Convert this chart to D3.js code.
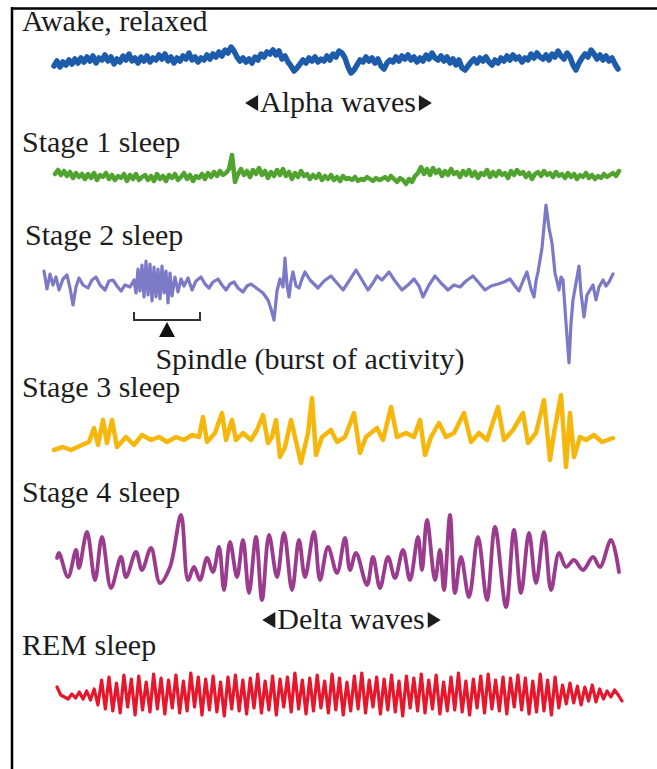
<!DOCTYPE html>
<html><head><meta charset="utf-8">
<script src="https://cdn.jsdelivr.net/npm/d3@7"></script>
<style>body{margin:0;background:#fff}svg{display:block}</style>
</head><body><svg id="c" width="657" height="769"></svg>
<script>
// ---------------- DATA ----------------
const stageLabels = ["Awake, relaxed", "Stage 1 sleep", "Stage 2 sleep", "Stage 3 sleep", "Stage 4 sleep", "REM sleep"];
const waveLabels = ["Alpha waves", "Delta waves"];
const spindleLabel = "Spindle (burst of activity)";

// uniformly sampled traces: [start time, end time] + amplitude samples
const awakeSpan = [14, 578];
const awakeValues = [-3,2,-4,1,-2,3,-1,4,0,5, 1,6,2,7,0,5,3,8,2,6, -1,4,1,7,3,9,2,5,0,6,
  2,7,1,5,3,8,4,9,2,6, 0,5,2,7,4,10,3,6,1,5, 3,8,4,9,6,11,7,13,10,16,
  12,6,2,5,1,4,0,6,3,9, 6,11,9,13,8,12,4,7,1,-3, -8,-5,-1,3,0,5,2,6,1,4,
  2,7,3,9,6,12,10,5,-4,-10, -7,-2,3,1,6,2,5,0,4,-3, -6,0,3,1,6,2,7,4,8,3,
  6,1,5,2,8,4,10,5,3,7, 2,6,0,4,-2,3,-5,-7,-3,1, 4,0,5,2,6,1,-2,3,0,5,
  2,7,3,8,4,6,1,5,3,9, 5,10,6,4,8,3,9,6,12,7, 4,10,6,-2,-7,0,5,9,6,13,
  9,4,8,3,7,2,5,-1,-6];

const stage1Span = [15, 579];
const stage1Values = [3,7,2,6,1,5,-1,4,0,3, -2,3,-1,4,-3,2,0,4,-2,2, -3,1,-1,3,-4,2,-2,3,-3,0,
  2,-3,1,-4,3,-2,1,-4,2,-1, 3,-3,0,4,-2,2,-4,1,-1,3, -2,4,0,5,1,6,2,4,8,22,
  -5,3,8,2,6,0,7,3,9,2, 6,-1,5,1,7,2,8,1,5,-2, 4,0,6,1,3,-2,2,-1,3,-3,
  1,-2,2,-3,0,-4,1,-2,-1,-3, 0,-4,-2,-3,0,-2,-4,-1,-3,-2, 0,-3,1,-2,-5,-1,-3,-7,-2,-5,
  1,4,10,3,8,2,9,4,7,1, 6,2,8,3,5,0,6,2,7,1, 5,-1,4,2,7,0,5,1,6,2,
  4,-1,6,2,7,3,5,0,4,-2, 3,5,1,6,2,4,0,5,1,3, -1,4,0,3,-2,2,0,4,-1,2,
  -2,1,-1,3,0,2,4,1,6];

const remSpan = [17, 582];
const remValues = [8,0,-2,-4,1,-3,3,-4,4,-5,6,
  -10,15,-14,18,-16,12,-18,20,-12,16, -20,19,-15,13,-17,21,-14,17,-19,15,
  -13,20,-18,14,-16,22,-12,18,-20,16, -15,19,-17,13,-21,18,-14,20,-16,15,
  -19,17,-13,21,-18,14,-15,19,-20,16, -12,18,-17,22,-14,15,-19,17,-16,20,
  -13,14,-18,21,-15,17,-20,13,-16,19, -14,22,-18,15,-12,18,-19,16,-15,20,
  -17,14,-21,19,-13,17,-16,21,-18,15, -14,20,-19,13,-16,18,-15,22,-17,14,
  -20,16,-13,19,-18,21,-14,15,-16,18, -19,17,-12,20,-15, 17,-19,14,-17,21,-16,15,-20,18,-13,
  10,-9,12,-8,9,-10,8,-6,10,-7,6,-4,4,-2,5,0,-6];

// irregular traces: [time, amplitude]
const stage2Points = [[4,12],[7,-6],[10,9],[13,-2],[16,6],[19,-7],[23,4],[27,8],[30,-5],[33,-22],[36,-4],[39,5],[43,-2],[48,-5],[52,3],[56,6],[60,-2],[65,-7],[69,2],[73,3],[77,-3],[81,-8],[85,-2],[90,-4],
  [94,3],[96,-10],[98,14],[100,-8],[102,18],[104,-14],[106,22],[108,-12],[110,19],[112,-18],[114,16],[116,-14],[118,14],[120,-16],[122,17],[124,-10],[126,12],[128,-20],[130,10],[132,-13],[135,6],[138,-9],
  [141,4],[144,-3],[148,5],[152,-7],[156,2],[161,6],[165,-1],[169,-5],[173,1],[178,4],[182,-2],[186,-7],[190,-1],[194,1],[198,-5],[203,-9],[207,-3],[211,-1],[215,-4],[219,-7],[223,-10],[228,-17],[231,-26],[234,-37],[237,-8],[240,4],[243,-4],[245,25],[247,-2],[249,-14],[251,2],[253,11],
  [256,-3],[259,-5],[262,4],[265,11],[270,3],[274,-1],[278,-5],[284,2],[291,7],[297,0],[303,-7],[309,2],[316,13],[322,3],[328,-7],[333,0],[337,7],[342,3],[349,11],[355,2],[362,-7],[368,-2],[374,4],[379,-3],[383,-14],[389,-2],[395,7],[401,0],[408,-7],[414,-2],[420,-4],[426,2],[433,7],
  [439,0],[445,-7],[451,-3],[458,-1],[464,1],[470,4],[475,-3],[479,-8],[483,2],[487,11],[491,-6],[494,-14],[496,2],[498,11],[502,35],[506,78],[509,55],[512,40],[515,10],[519,-7],[521,6],[523,3],[526,-40],[529,-80],[531,-40],[533,-17],[536,0],[539,17],[541,-10],[544,-34],
  [547,-12],[550,-7],[553,-2],[556,-17],[559,-4],[563,3],[566,-3],[569,1],[571,5],[573,9]];
const spindleSpan = [94, 160];

const stage3Points = [[14,-8],[23,-5],[31,-8],[42,-3],[49,0],[54,14],[58,-3],[63,22],[67,-1],[72,22],[77,-5],[86,5],[94,-3],[102,7],[111,2],
  [119,5],[127,0],[136,5],[144,2],[152,7],[159,5],[163,25],[167,0],[175,9],[182,29],[186,2],[192,22],[196,2],[203,9],[211,2],[217,12],[223,27],
  [228,-1],[232,5],[236,22],[240,-15],[245,-5],[251,22],[255,5],[261,-21],[268,9],[272,44],[276,-13],[282,5],[291,12],[297,0],[305,5],[314,29],
  [320,-11],[326,5],[337,14],[343,2],[351,35],[357,5],[366,9],[374,5],[380,22],[385,-13],[391,5],[399,19],[406,5],[414,9],[424,29],[431,0],
  [439,9],[447,2],[458,35],[464,2],[473,12],[483,29],[488,-1],[496,9],[504,42],[510,-18],[514,9],[521,47],[526,-25],[530,29],[534,-15],[540,5],
  [546,2],[554,7],[562,0],[573,4]];

const stage4Points = [[17,2],[19,7],[28,-17],[36,10],[39,-8],[47,28],[55,-20],[62,23],[71,-28],[81,3],[86,-17],[96,8],[102,-10],[111,12],[120,-23],
  [130,-7],[141,45],[148,-20],[154,-7],[160,-20],[167,2],[173,-12],[179,13],[184,-30],[190,18],[197,-17],[203,20],[209,-33],[216,23],[222,-40],
  [229,25],[237,-17],[244,27],[252,-30],[259,20],[265,-17],[274,28],[280,-20],[288,13],[297,-13],[305,22],[310,-10],[316,7],[327,-25],[333,3],
  [340,-28],[348,3],[355,-18],[363,10],[370,-20],[378,23],[382,-10],[387,40],[395,-20],[400,10],[404,-30],[410,45],[415,-33],[421,3],[429,-37],
  [438,23],[447,-40],[455,33],[466,-47],[474,30],[481,-33],[489,27],[496,-23],[504,28],[511,-30],[519,7],[526,-7],[534,0],[543,-10],[553,3],
  [560,-7],[571,20],[579,-12]];

// ---------------- CHART ----------------
const svg = d3.select("#c");
const x = d3.scaleLinear().domain([0, 600]).range([40, 640]);

const defs = svg.append("defs");
defs.append("filter").attr("id", "soft").attr("x", "-5%").attr("y", "-20%").attr("width", "110%").attr("height", "140%")
  .append("feGaussianBlur").attr("stdDeviation", 0.6);

function uniform(span, vals) {
  return vals.map((v, i) => [span[0] + i * (span[1] - span[0]) / (vals.length - 1), v]);
}

const rows = [
  {label: stageLabels[0], labelY: 31, center: 63, data: uniform(awakeSpan, awakeValues), color: "#1f5cab", width: 5.5, curve: d3.curveLinear},
  {label: stageLabels[1], labelY: 152, center: 177, data: uniform(stage1Span, stage1Values), color: "#4fa32f", width: 4.5, curve: d3.curveLinear},
  {label: stageLabels[2], labelY: 245, center: 283, data: stage2Points, color: "#7b79c6", width: 3.2, labelX: 25, curve: d3.curveLinear},
  {label: stageLabels[3], labelY: 397, center: 442, data: stage3Points, color: "#f6b70c", width: 4.5, curve: d3.curveLinear},
  {label: stageLabels[4], labelY: 502, center: 560, data: stage4Points, color: "#9b3b8d", width: 3.8, curve: d3.curveCatmullRom.alpha(0.5)},
  {label: stageLabels[5], labelY: 655, center: 695, data: uniform(remSpan, remValues), color: "#e8132b", width: 3.2, curve: d3.curveLinear}
];

const font = "'Liberation Serif', 'Times New Roman', serif";
const ink = "#1c1c1c";
const fs = 30;

// frame
svg.append("line").attr("x1", 11).attr("x2", 657).attr("y1", 8.5).attr("y2", 8.5).attr("stroke", "#000").attr("stroke-width", 2.5);
svg.append("line").attr("x1", 12).attr("x2", 12).attr("y1", 7).attr("y2", 769).attr("stroke", "#000").attr("stroke-width", 2.5);

rows.forEach(r => {
  const y = d3.scaleLinear().domain([-100, 100]).range([r.center + 100, r.center - 100]);
  const line = d3.line().x(d => x(d[0])).y(d => y(d[1])).curve(r.curve);
  svg.append("path").datum(r.data).attr("d", line)
    .attr("fill", "none").attr("stroke", r.color).attr("stroke-width", r.width)
    .attr("stroke-linejoin", "round").attr("stroke-linecap", "round").attr("filter", "url(#soft)");
  svg.append("text").attr("x", r.labelX || 22).attr("y", r.labelY).text(r.label)
    .attr("font-family", font).attr("font-size", fs).attr("fill", ink);
  r.y = y;
});

// wave name labels with arrowheads
function waveLabel(text, cx, baseY) {
  const t = svg.append("text").attr("x", cx).attr("y", baseY).attr("text-anchor", "middle")
    .attr("font-family", font).attr("font-size", fs).attr("fill", ink).text(text);
  const w = t.node().getComputedTextLength();
  const my = baseY - 9;
  svg.append("path").attr("d", `M${cx - w/2 - 2},${my - 8} L${cx - w/2 - 2},${my + 8} L${cx - w/2 - 15},${my} Z`).attr("fill", ink);
  svg.append("path").attr("d", `M${cx + w/2 + 3},${my - 8} L${cx + w/2 + 3},${my + 8} L${cx + w/2 + 16},${my} Z`).attr("fill", ink);
}
waveLabel(waveLabels[0], 338, 112);
waveLabel(waveLabels[1], 351, 629);

// spindle bracket
const s2 = rows[2];
const bx0 = x(spindleSpan[0]), bx1 = x(spindleSpan[1]), by = s2.y(-37);
svg.append("path").attr("d", `M${bx0},${by - 8} L${bx0},${by} L${bx1},${by} L${bx1},${by - 8}`)
  .attr("fill", "none").attr("stroke", "#333").attr("stroke-width", 2);
const bm = (bx0 + bx1) / 2;
svg.append("path").attr("d", `M${bm},${by + 2} L${bm - 8},${by + 17} L${bm + 8},${by + 17} Z`).attr("fill", "#111");
svg.append("text").attr("x", 310).attr("y", 369).attr("text-anchor", "middle")
  .attr("font-family", font).attr("font-size", fs).attr("fill", ink).text(spindleLabel);
</script>
</body></html>
